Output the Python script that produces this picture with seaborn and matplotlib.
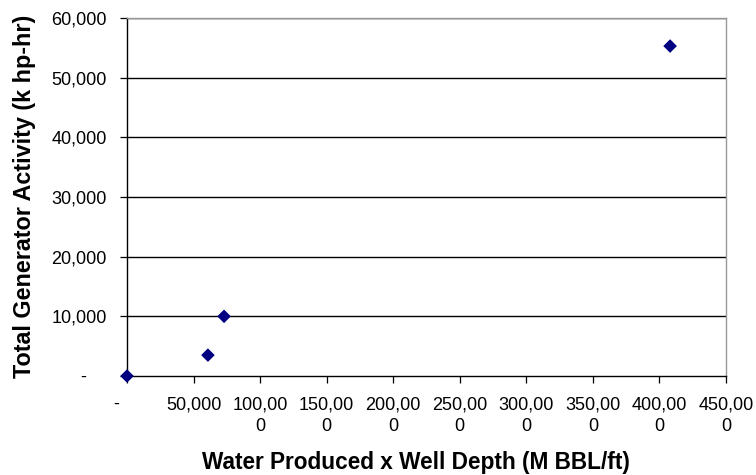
import matplotlib
matplotlib.use("Agg")
import matplotlib.pyplot as plt
import seaborn as sns
import pandas as pd

water_x_depth = [0, 60800, 72900, 408000]
generator_activity = [0, 3500, 10000, 55300]

x_ticks = [0, 50000, 100000, 150000, 200000, 250000, 300000, 350000, 400000, 450000]
x_tick_labels = ["-    ", "50,000", "100,00\n0", "150,00\n0", "200,00\n0", "250,00\n0",
                 "300,00\n0", "350,00\n0", "400,00\n0", "450,00\n0"]
y_ticks = [0, 10000, 20000, 30000, 40000, 50000, 60000]
y_tick_labels = ["-    ", "10,000", "20,000", "30,000", "40,000", "50,000", "60,000"]

x_title = "Water Produced x Well Depth (M BBL/ft)"
y_title = "Total Generator Activity (k hp-hr)"

sns.set_style("white")
plt.rcParams['font.family'] = ['Liberation Sans', 'DejaVu Sans']
plt.rcParams['text.color'] = 'black'
plt.rcParams['xtick.color'] = 'black'
plt.rcParams['ytick.color'] = 'black'
plt.rcParams['axes.labelcolor'] = 'black'

df = pd.DataFrame({"x": water_x_depth, "y": generator_activity})

W, H = 756, 475
L, R, T, B = 127, 726, 18, 376
fig = plt.figure(figsize=(W / 100, H / 100), dpi=100)
ax = fig.add_axes([L / W, 1 - B / H, (R - L) / W, (B - T) / H])

for yt in y_ticks[1:]:
    ax.axhline(yt, color="black", lw=1.0, zorder=1)

sns.scatterplot(data=df, x="x", y="y", marker="D", s=48, color="#000080",
                edgecolor="none", linewidth=0, ax=ax, zorder=3, clip_on=False)

ax.set_xlim(0, 450000)
ax.set_ylim(0, 60000)
ax.set_xticks(x_ticks)
ax.set_xticklabels(x_tick_labels, fontsize=13, linespacing=1.35)
ax.set_yticks(y_ticks)
ax.set_yticklabels(y_tick_labels, fontsize=13)
ax.tick_params(axis="x", direction="out", length=5, width=0.9, color="black", pad=9.4)
ax.tick_params(axis="y", direction="out", length=5, width=0.9, color="black", pad=9.4)
ax.xaxis.set_ticks_position("bottom")
ax.yaxis.set_ticks_position("left")

for side in ["left", "bottom"]:
    ax.spines[side].set_color("black")
    ax.spines[side].set_linewidth(1.0)
for side in ["top", "right"]:
    ax.spines[side].set_color("#999999")
    ax.spines[side].set_linewidth(1.0)

ax.set_xlabel(x_title, fontsize=16.5, fontweight="bold")
ax.set_ylabel(y_title, fontsize=16.5, fontweight="bold")

# fit title sizes to the measured spans of the reference
fig.canvas.draw()
rend = fig.canvas.get_renderer()
xw = ax.xaxis.label.get_window_extent(rend).width
ax.xaxis.label.set_fontsize(16.5 * 428 / xw)
yh = ax.yaxis.label.get_window_extent(rend).height
ax.yaxis.label.set_fontsize(16.5 * 363 / yh)

ax.xaxis.label.set_va("baseline")
ax.xaxis.set_label_coords((416 - L) / (R - L), -(469 - B) / (B - T))
ax.yaxis.label.set_va("center")
ax.yaxis.set_label_coords(-(L - 25) / (R - L), (B - 196.5) / (B - T))

fig.savefig("out.png", dpi=100)
